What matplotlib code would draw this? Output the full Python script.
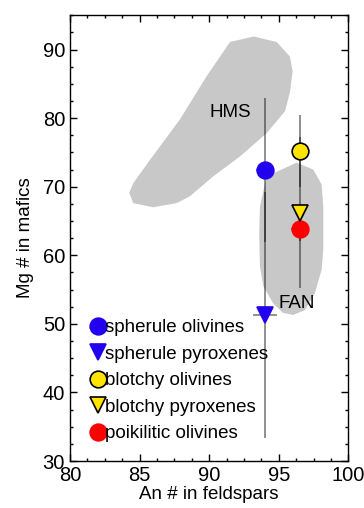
import matplotlib
matplotlib.use('Agg')
import matplotlib.pyplot as plt
from matplotlib.ticker import MultipleLocator

plt.rcParams['font.family']=['Liberation Sans','DejaVu Sans']

# data: An # (x), Mg # (y), errors
labels=['spherule olivines','spherule pyroxenes','blotchy olivines','blotchy pyroxenes','poikilitic olivines']
an=[94.0,94.0,96.5,96.5,96.5]
mg=[72.5,51.3,75.2,66.2,63.8]
an_err=[0.6,0.85,0.3,0.3,0.65]
mg_err=[10.5,17.9,5.2,11.0,1.7]
markers=['o','v','o','v','o']
colors=['#2200f0','#2200f0','#ffe400','#ffe400','#ff0000']
edges=['#2200f0','#2200f0','black','black','#ff0000']

# shaded fields
hms_x=[91.5,93.2,94.85,95.8,96.0,95.8,95.45,94.13,92.21,90.29,88.62,87.66,85.98,84.55,84.26,84.55,85.75,87.9,89.82]
hms_y=[91.1,91.9,91.1,89.0,86.8,83.7,81.0,77.8,74.4,71.5,68.6,67.6,67.0,67.6,69.1,70.5,73.9,79.8,86.1]
fan_x=[96.28,97.48,98.08,98.2,98.2,98.2,98.08,97.6,96.88,96.04,95.3,94.6,93.89,93.65,93.6,93.65,94.13]
fan_y=[73.5,72.5,70.3,67.1,63.2,60.8,57.9,54.5,52.0,51.3,51.6,53.0,55.5,58.4,63.2,67.1,71.5]

fig=plt.figure(figsize=(3.64,5.08),dpi=100)
ax=fig.add_axes([0.192,0.0925,0.765,0.8775])

ax.fill(hms_x,hms_y,color='#c8c8c8',lw=0,zorder=1)
ax.fill(fan_x,fan_y,color='#c8c8c8',lw=0,zorder=1)
ax.text(91.5,80.8,'HMS',fontsize=13.5,ha='center',va='center',zorder=2)
ax.text(96.3,53.0,'FAN',fontsize=13.5,ha='center',va='center',zorder=2)

order=[0,1,2,4,3]
handles={}
for i in order:
    ax.errorbar(an[i],mg[i],xerr=an_err[i],yerr=mg_err[i],fmt='none',
                ecolor='black',elinewidth=1.1,alpha=0.55,zorder=3)
for i in order:
    h,=ax.plot(an[i],mg[i],marker=markers[i],ls='none',ms=12,
               mfc=colors[i],mec=edges[i],mew=1.2,zorder=4,label=labels[i])
    handles[i]=h

leg=ax.legend([handles[i] for i in range(5)],labels,loc='lower left',
              bbox_to_anchor=(0.081,0.042),frameon=False,fontsize=13.5,
              handlelength=0.6,handletextpad=0.05,labelspacing=0.5,
              borderpad=0,borderaxespad=0)

ax.set_xlim(80,100)
ax.set_ylim(30,95)
ax.xaxis.set_major_locator(MultipleLocator(5))
ax.xaxis.set_minor_locator(MultipleLocator(1.25))
ax.yaxis.set_major_locator(MultipleLocator(10))
ax.yaxis.set_minor_locator(MultipleLocator(2.5))
ax.tick_params(which='both',direction='in',top=True,right=True,labelsize=14.5,width=1)
ax.tick_params(which='major',length=5)
ax.tick_params(which='minor',length=2.5)
for s in ax.spines.values():
    s.set_linewidth(1)
ax.set_xlabel('An # in feldspars',fontsize=13.5,labelpad=1)
ax.set_ylabel('Mg # in mafics',fontsize=13.5,labelpad=6)

fig.savefig('out.png',dpi=100)
